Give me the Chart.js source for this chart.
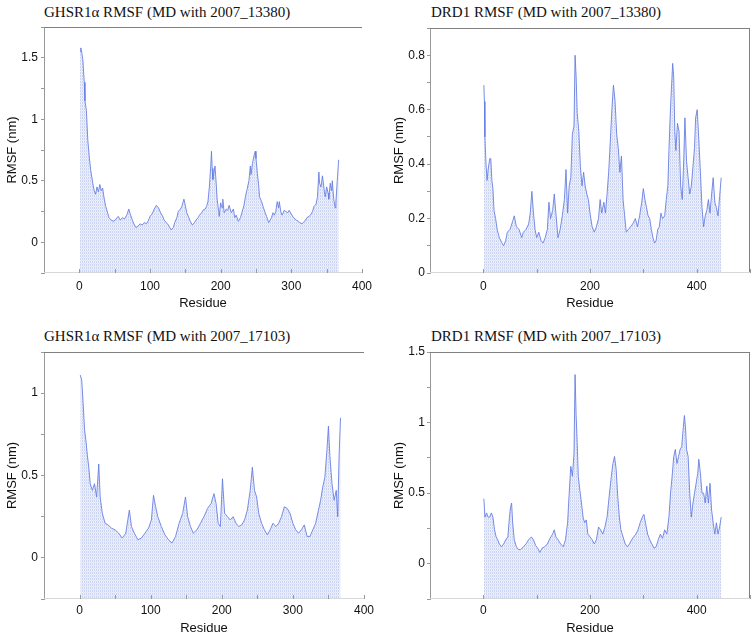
<!DOCTYPE html>
<html>
<head>
<meta charset="utf-8">
<script src="https://cdn.jsdelivr.net/npm/chart.js@4.4.1/dist/chart.umd.min.js"></script>
<style>
  body { margin: 0; background: #fff; }
  #wrap { position: relative; width: 756px; height: 635px; overflow: hidden; }
  .panel { position: absolute; }
  .title { position: absolute; font-family: "Liberation Serif", "Times New Roman", serif; font-size: 15px; line-height: 1; color: #111; white-space: nowrap; }
</style>
</head>
<body>
<div id="wrap">
  <div class="title" style="left:44px; top:5px;">GHSR1α RMSF (MD with 2007_13380)</div>
  <div class="title" style="left:431px; top:5px;">DRD1 RMSF (MD with 2007_13380)</div>
  <div class="title" style="left:44px; top:329px;">GHSR1α RMSF (MD with 2007_17103)</div>
  <div class="title" style="left:431px; top:329px;">DRD1 RMSF (MD with 2007_17103)</div>
  <canvas class="panel" id="c1" width="378" height="317" style="left:0; top:0;"></canvas>
  <canvas class="panel" id="c2" width="378" height="317" style="left:378px; top:0;"></canvas>
  <canvas class="panel" id="c3" width="378" height="318" style="left:0; top:317px;"></canvas>
  <canvas class="panel" id="c4" width="378" height="318" style="left:378px; top:317px;"></canvas>
</div>
<script>
// GHSR1a, MD with 2007_13380
var ghsrResA = [1,2,3,5,7,8,10,12,14,16,
  19,21,23,25,27,29,31,33,35,37,
  40,42,45,49,52,55,58,61,64,67,
  70,72,75,78,80,83,86,89,92,95,
  98,100,103,106,109,112,115,118,120,123,
  126,130,133,135,138,140,143,145,148,150,
  152,155,157,160,163,165,168,170,173,175,
  178,180,182,184,186,187,188,189,190,192,
  194,195,197,198,200,202,203,205,208,210,
  212,215,218,220,222,225,228,230,233,235,
  237,240,242,243,245,247,249,250,252,254,
  255,258,260,263,265,268,270,272,274,276,
  278,280,282,283,285,287,290,292,295,297,
  300,302,305,307,310,312,315,317,320,322,
  325,327,330,332,335,337,339,340,342,344,
  345,347,348,350,352,353,355,357,358,360,
  362,363,365,367];
var ghsrRmsfA = [1.55,1.58,1.56,1.48,1.30,1.15,1.07,0.83,0.70,0.59,
  0.48,0.42,0.39,0.45,0.41,0.47,0.42,0.44,0.36,0.30,
  0.24,0.20,0.18,0.17,0.19,0.21,0.18,0.20,0.19,0.22,
  0.27,0.23,0.18,0.14,0.12,0.13,0.15,0.14,0.16,0.15,
  0.18,0.21,0.23,0.27,0.30,0.28,0.24,0.21,0.18,0.16,
  0.14,0.10,0.12,0.16,0.20,0.25,0.27,0.29,0.35,0.30,
  0.24,0.20,0.17,0.14,0.16,0.18,0.20,0.22,0.24,0.26,
  0.27,0.29,0.33,0.45,0.62,0.74,0.60,0.51,0.55,0.62,
  0.45,0.35,0.26,0.21,0.32,0.28,0.35,0.24,0.27,0.26,
  0.30,0.24,0.27,0.20,0.22,0.17,0.20,0.24,0.30,0.37,
  0.42,0.50,0.62,0.55,0.64,0.70,0.74,0.68,0.56,0.45,
  0.37,0.33,0.29,0.24,0.21,0.16,0.18,0.20,0.24,0.22,
  0.25,0.33,0.28,0.33,0.25,0.22,0.26,0.25,0.24,0.26,
  0.23,0.21,0.19,0.18,0.17,0.16,0.15,0.16,0.18,0.20,
  0.21,0.22,0.25,0.29,0.31,0.37,0.57,0.48,0.45,0.54,
  0.50,0.40,0.37,0.45,0.40,0.35,0.48,0.42,0.50,0.35,
  0.28,0.32,0.50,0.67];

// DRD1, MD with 2007_13380
var drdResA = [1,2,3,5,7,9,12,14,16,18,
  20,23,26,30,35,38,42,45,50,55,
  58,62,67,72,75,80,85,88,91,94,
  97,100,104,108,112,116,120,123,126,130,
  133,136,140,144,148,152,155,158,161,164,
  167,170,172,174,176,179,182,185,188,191,
  194,197,200,204,208,212,216,219,222,226,
  229,232,235,238,241,244,247,250,253,256,
  259,262,265,268,272,276,280,285,289,293,
  297,300,303,306,309,312,315,318,321,324,
  327,330,333,336,340,343,346,348,350,352,
  355,357,359,361,364,367,370,373,376,378,
  381,384,387,390,393,396,398,401,404,407,
  410,413,416,419,422,425,428,431,434,437,
  440,443,446];
var drdRmsfA = [0.69,0.63,0.50,0.40,0.34,0.38,0.42,0.42,0.34,0.31,
  0.23,0.20,0.16,0.13,0.11,0.10,0.12,0.15,0.16,0.19,
  0.21,0.17,0.16,0.13,0.15,0.16,0.18,0.22,0.30,0.22,
  0.16,0.13,0.15,0.12,0.11,0.13,0.16,0.26,0.20,0.23,
  0.29,0.22,0.13,0.16,0.21,0.27,0.38,0.22,0.32,0.35,
  0.51,0.54,0.80,0.72,0.59,0.52,0.39,0.32,0.37,0.32,
  0.29,0.27,0.22,0.17,0.15,0.17,0.20,0.27,0.22,0.26,
  0.22,0.29,0.37,0.48,0.60,0.69,0.63,0.51,0.46,0.37,
  0.43,0.27,0.21,0.15,0.16,0.17,0.18,0.20,0.17,0.21,
  0.26,0.31,0.27,0.24,0.21,0.20,0.16,0.13,0.11,0.12,
  0.16,0.17,0.22,0.20,0.21,0.27,0.32,0.45,0.56,0.65,
  0.77,0.72,0.52,0.45,0.55,0.52,0.32,0.27,0.43,0.57,
  0.41,0.35,0.29,0.32,0.39,0.46,0.57,0.60,0.49,0.37,
  0.24,0.17,0.21,0.23,0.27,0.22,0.29,0.35,0.26,0.24,
  0.21,0.28,0.35];

// GHSR1a, MD with 2007_17103
var ghsrResB = [1,3,5,7,9,11,13,15,18,21,
  24,27,29,32,36,40,45,50,55,60,
  65,70,73,77,82,87,92,97,101,104,
  107,110,115,120,125,130,135,140,145,149,
  152,156,160,165,170,175,180,185,189,192,
  195,198,201,204,208,212,216,220,224,228,
  232,236,240,243,246,249,252,256,260,264,
  268,272,276,280,284,288,292,296,300,304,
  308,312,316,320,324,328,332,336,339,342,
  345,348,350,352,355,358,361,363,365,367];
var ghsrRmsfB = [1.11,1.08,0.94,0.78,0.71,0.62,0.55,0.45,0.41,0.45,
  0.37,0.57,0.37,0.27,0.21,0.20,0.18,0.17,0.15,0.12,
  0.15,0.29,0.19,0.15,0.11,0.12,0.15,0.18,0.23,0.38,
  0.31,0.25,0.19,0.14,0.11,0.09,0.13,0.21,0.27,0.37,
  0.25,0.19,0.15,0.17,0.21,0.25,0.30,0.33,0.39,0.33,
  0.21,0.19,0.48,0.27,0.25,0.23,0.25,0.21,0.19,0.20,
  0.23,0.29,0.41,0.55,0.41,0.37,0.27,0.21,0.17,0.14,
  0.17,0.21,0.19,0.21,0.25,0.31,0.30,0.27,0.21,0.17,
  0.15,0.17,0.20,0.13,0.13,0.17,0.21,0.29,0.35,0.43,
  0.49,0.66,0.80,0.62,0.45,0.35,0.41,0.25,0.62,0.85];

// DRD1, MD with 2007_17103
var drdResB = [1,3,6,9,12,15,18,21,24,27,
  30,34,38,42,46,49,51,53,55,58,
  62,66,70,75,80,85,90,94,98,102,
  106,110,115,120,125,130,133,136,140,145,
  150,154,158,161,164,167,170,172,174,176,
  178,181,184,187,190,193,196,200,204,208,
  212,216,220,224,228,232,236,240,243,246,
  249,252,255,258,262,266,270,274,278,282,
  286,290,294,298,301,304,308,312,316,320,
  324,328,332,336,340,344,348,351,354,357,
  360,363,366,369,372,375,377,379,381,384,
  387,390,393,396,399,402,404,407,410,413,
  416,419,422,425,428,431,434,437,440,443,
  446];
var drdRmsfB = [0.46,0.33,0.36,0.33,0.33,0.36,0.33,0.24,0.19,0.17,
  0.14,0.12,0.14,0.17,0.19,0.33,0.40,0.43,0.29,0.17,
  0.12,0.10,0.10,0.12,0.14,0.17,0.19,0.17,0.13,0.11,
  0.08,0.11,0.12,0.14,0.18,0.21,0.24,0.19,0.17,0.14,
  0.12,0.17,0.29,0.50,0.69,0.62,0.78,1.34,1.05,0.86,
  0.62,0.52,0.43,0.33,0.29,0.31,0.21,0.19,0.17,0.14,
  0.17,0.26,0.24,0.21,0.26,0.33,0.48,0.62,0.71,0.76,
  0.67,0.48,0.33,0.24,0.19,0.14,0.12,0.14,0.17,0.19,
  0.21,0.24,0.29,0.33,0.35,0.29,0.21,0.17,0.14,0.11,
  0.12,0.17,0.21,0.18,0.24,0.21,0.33,0.50,0.62,0.76,
  0.81,0.71,0.76,0.81,0.83,0.97,1.05,0.97,0.81,0.76,
  0.50,0.33,0.43,0.50,0.57,0.64,0.74,0.64,0.50,0.50,
  0.43,0.55,0.43,0.57,0.38,0.29,0.21,0.29,0.21,0.26,
  0.33];

var sansFont = '"Liberation Sans", Arial, sans-serif';

// pale blue fill made of thin vertical lines, like the dotted residue lines in the original
function makeFill() {
  var c = document.createElement('canvas');
  c.width = 2; c.height = 3;
  var g = c.getContext('2d');
  g.fillStyle = '#eef0fb'; g.fillRect(0, 0, 2, 3);
  g.fillStyle = '#cbd3f2'; g.fillRect(0, 0, 1, 2);
  g.fillStyle = '#dfe4f7'; g.fillRect(1, 2, 1, 1);
  return g.createPattern(c, 'repeat');
}

// top/right frame lines and the inward x ticks
var framePlugin = {
  id: 'frame',
  afterDraw: function (chart, args, opts) {
    var ctx = chart.ctx;
    var a = chart.chartArea;
    var xs = chart.scales.x;
    ctx.save();
    ctx.lineWidth = 1;
    ctx.strokeStyle = '#808080';
    ctx.beginPath();
    ctx.moveTo(a.left, a.top + 0.5);
    ctx.lineTo(a.right, a.top + 0.5);
    if (opts.right) {
      ctx.moveTo(a.right - 0.5, a.top);
      ctx.lineTo(a.right - 0.5, a.bottom);
    }
    ctx.stroke();
    ctx.strokeStyle = '#d8d8d8';
    ctx.beginPath();
    ctx.moveTo(a.left, a.bottom - 0.5);
    ctx.lineTo(a.right, a.bottom - 0.5);
    ctx.stroke();
    ctx.strokeStyle = '#999';
    ctx.beginPath();
    xs.ticks.forEach(function (t) {
      if (t.value <= xs.min) return;
      var px = Math.round(xs.getPixelForValue(t.value)) + 0.5;
      ctx.moveTo(px, a.bottom);
      ctx.lineTo(px, a.bottom - 4);
    });
    ctx.stroke();
    ctx.restore();
  }
};

function labelEvery(step) {
  return function (v) {
    var q = v / step;
    if (v < 0 || Math.abs(q - Math.round(q)) > 1e-6) return '';
    return String(Math.round(v * 100) / 100);
  };
}

function makeChart(id, res, vals, cfg) {
  var points = res.map(function (r, i) { return { x: r, y: vals[i] }; });
  return new Chart(document.getElementById(id), {
    type: 'line',
    data: {
      datasets: [{
        data: points,
        borderColor: 'rgba(98,122,224,0.85)',
        borderWidth: 1,
        backgroundColor: makeFill(),
        fill: 'start',
        pointRadius: 0,
        tension: 0
      }]
    },
    options: {
      responsive: false,
      animation: false,
      layout: { padding: { top: cfg.padTop, right: cfg.padRight, left: 0, bottom: 0 } },
      plugins: {
        legend: { display: false },
        tooltip: { enabled: false },
        frame: { right: cfg.rightBorder }
      },
      scales: {
        x: {
          type: 'linear',
          min: cfg.xMin, max: cfg.xMax,
          afterFit: function (s) { s.height = cfg.xHeight; },
          grid: { display: false, drawTicks: false },
          border: { display: false },
          ticks: {
            stepSize: cfg.xStep, autoSkip: false, maxRotation: 0,
            padding: cfg.xTickPad, color: '#111',
            font: { family: sansFont, size: 12 },
            callback: labelEvery(cfg.xLabelStep)
          },
          title: {
            display: true, text: 'Residue', color: '#111',
            font: { family: sansFont, size: 13, lineHeight: 1 },
            padding: { top: 0, bottom: cfg.xTitlePad }
          }
        },
        y: {
          min: cfg.yMin, max: cfg.yMax,
          afterFit: function (s) { s.width = cfg.yWidth; },
          grid: { drawOnChartArea: false, drawTicks: true, tickLength: 3, color: '#999' },
          border: { display: true, color: '#999' },
          ticks: {
            stepSize: cfg.yStep, autoSkip: false,
            padding: cfg.yTickPad, color: '#111',
            font: { family: sansFont, size: 12 },
            callback: labelEvery(cfg.yLabelStep)
          },
          title: {
            display: true, text: 'RMSF (nm)', color: '#111',
            font: { family: sansFont, size: 13, lineHeight: 1.2 },
            padding: { top: cfg.yTitlePad, bottom: 0 }
          }
        }
      }
    },
    plugins: [framePlugin]
  });
}

makeChart('c1', ghsrResA, ghsrRmsfA, {
  padTop: 27, padRight: 11, rightBorder: false,
  xMin: -50, xMax: 400, xStep: 50, xLabelStep: 100, xHeight: 44, xTickPad: 6, xTitlePad: 7.5,
  yMin: -0.25, yMax: 1.75, yStep: 0.25, yLabelStep: 0.5, yWidth: 44, yTickPad: 3, yTitlePad: 5
});
makeChart('c2', drdResA, drdRmsfA, {
  padTop: 28, padRight: 6, rightBorder: true,
  xMin: -100, xMax: 500, xStep: 100, xLabelStep: 200, xHeight: 44, xTickPad: 6, xTitlePad: 7.5,
  yMin: 0, yMax: 0.9, yStep: 0.1, yLabelStep: 0.2, yWidth: 52, yTickPad: 2, yTitlePad: 13.5
});
makeChart('c3', ghsrResB, ghsrRmsfB, {
  padTop: 35, padRight: 11, rightBorder: false,
  xMin: -50, xMax: 400, xStep: 50, xLabelStep: 100, xHeight: 36, xTickPad: 4, xTitlePad: 0,
  yMin: -0.25, yMax: 1.25, yStep: 0.25, yLabelStep: 0.5, yWidth: 44, yTickPad: 3, yTitlePad: 5
});
makeChart('c4', drdResB, drdRmsfB, {
  padTop: 35, padRight: 6, rightBorder: true,
  xMin: -100, xMax: 500, xStep: 100, xLabelStep: 200, xHeight: 36, xTickPad: 4, xTitlePad: 0,
  yMin: -0.25, yMax: 1.5, yStep: 0.25, yLabelStep: 0.5, yWidth: 52, yTickPad: 2, yTitlePad: 13.5
});
</script>
</body>
</html>
